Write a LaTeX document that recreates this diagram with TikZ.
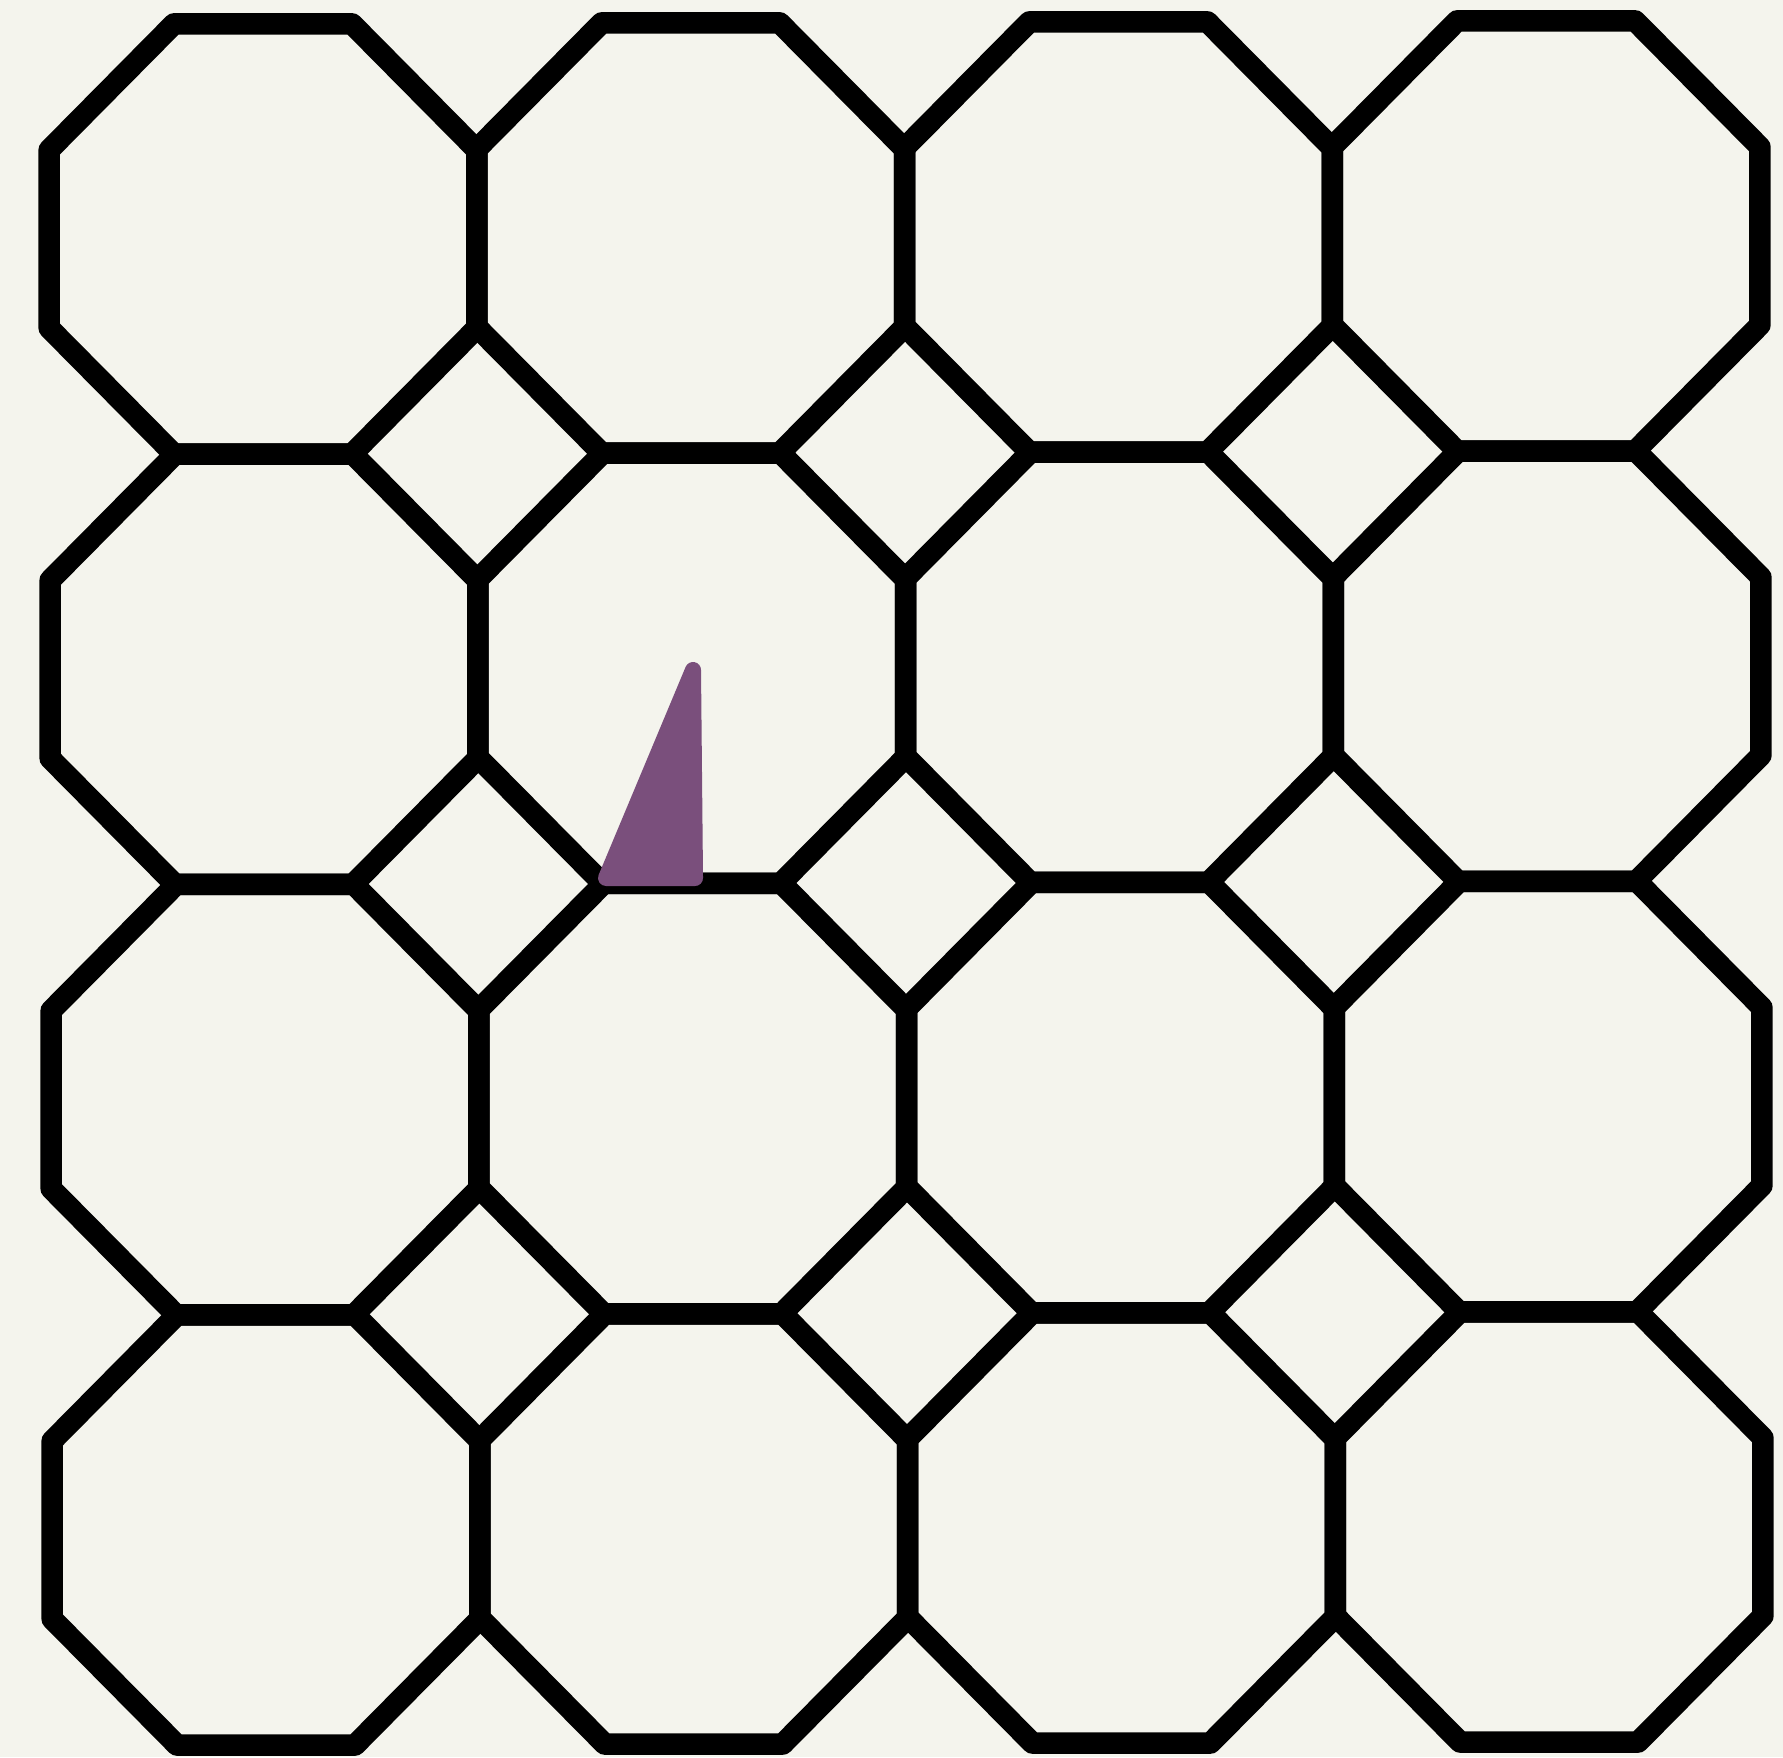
\documentclass[tikz,border=0pt]{standalone}
\definecolor{paper}{HTML}{F4F4ED}
\definecolor{ink}{HTML}{000000}
\definecolor{plum}{HTML}{7A4F7C}

\begin{document}
\begin{tikzpicture}[
  x=0.01cm, y=-0.01cm,
  tile/.style={draw=ink, line width=0.215cm, line join=round},
  blot/.style={fill=plum, draw=plum, line width=0.16cm, line join=round}
]
  \fill[paper] (0,0) rectangle (1783,1757);
  \useasboundingbox (0,0) rectangle (1783,1757);
  % octagons; the squares come out between them
  \foreach \i in {0,...,3}{
    \foreach \j in {0,...,3}{
      \pgfmathsetmacro{\cx}{263+427.7*\i+\j}
      \pgfmathsetmacro{\cy}{239+430.3*\j-\i}
      \draw[tile] (\cx-89,\cy-215.15) -- (\cx+89,\cy-215.15)
        -- (\cx+213.85,\cy-89) -- (\cx+213.85,\cy+89)
        -- (\cx+89,\cy+215.15) -- (\cx-89,\cy+215.15)
        -- (\cx-213.85,\cy+89) -- (\cx-213.85,\cy-89) -- cycle;
    }
  }
  \filldraw[blot] (693,670) -- (695,878) -- (606,878) -- cycle;
\end{tikzpicture}
\end{document}
